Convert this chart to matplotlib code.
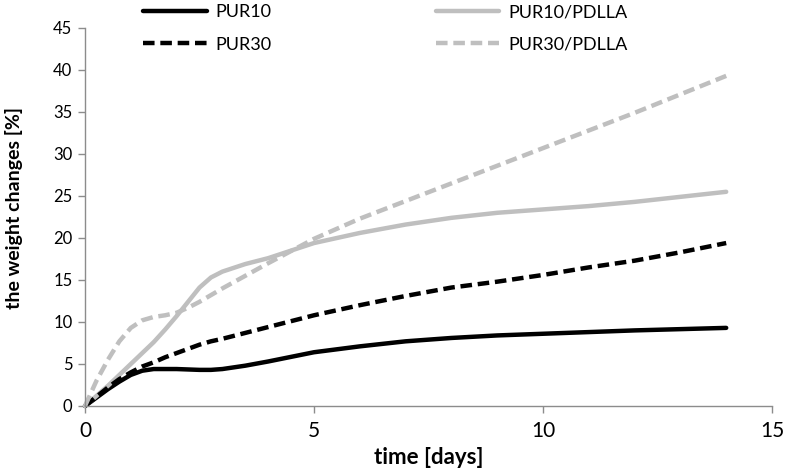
import numpy as np
import matplotlib
matplotlib.use("Agg")
import matplotlib.pyplot as plt

plt.rcParams["font.family"] = ["Lato", "DejaVu Sans"]

# values (time in days, weight change in %)
time_days = [0, 0.25, 0.5, 0.75, 1, 1.25, 1.5, 1.75, 2, 2.25, 2.5, 2.75, 3, 3.5, 4, 5, 6, 7, 8, 9, 10, 11, 12, 13, 14]
pur10 = [0, 1.0, 2.0, 2.9, 3.7, 4.2, 4.4, 4.4, 4.4, 4.35, 4.3, 4.3, 4.4, 4.8, 5.3, 6.4, 7.1, 7.7, 8.1, 8.4, 8.6, 8.8, 9.0, 9.15, 9.3]
pur30 = [0, 1.1, 2.2, 3.2, 4.0, 4.7, 5.2, 5.8, 6.3, 6.8, 7.3, 7.7, 8.0, 8.7, 9.4, 10.8, 12.0, 13.1, 14.1, 14.8, 15.6, 16.5, 17.3, 18.3, 19.4]
pur10_pdlla = [0, 1.2, 2.4, 3.7, 5.0, 6.3, 7.6, 9.1, 10.7, 12.4, 14.1, 15.3, 16.0, 16.9, 17.6, 19.4, 20.6, 21.6, 22.4, 23.0, 23.4, 23.8, 24.3, 24.9, 25.5]
pur30_pdlla = [0, 3.0, 5.5, 7.7, 9.3, 10.2, 10.6, 10.8, 11.1, 11.7, 12.4, 13.2, 14.0, 15.5, 17.0, 19.9, 22.3, 24.4, 26.5, 28.6, 30.7, 32.8, 34.9, 37.1, 39.3]

labels = ["PUR10", "PUR30", "PUR10/PDLLA", "PUR30/PDLLA"]

fig = plt.figure(figsize=(7.86, 4.76), dpi=100)
ax = fig.add_axes([85 / 786, 1 - 406 / 476, (772 - 85) / 786, (406 - 28) / 476])

gray = "#bfbfbf"
lw = 3.2
dash = (2.6, 1.3)
l1, = ax.plot(time_days, pur10, color="black", lw=lw, clip_on=False, solid_capstyle="round")
l2, = ax.plot(time_days, pur10_pdlla, color=gray, lw=lw, clip_on=False, solid_capstyle="round")
l3, = ax.plot(time_days, pur30, color="black", lw=lw, ls=(0, dash), clip_on=False)
l4, = ax.plot(time_days, pur30_pdlla, color=gray, lw=lw, ls=(0, dash), clip_on=False)

ax.set_xlim(0, 15)
ax.set_ylim(0, 45)
ax.set_xticks([0, 5, 10, 15])
ax.set_yticks(np.arange(0, 46, 5))

for s in ["top", "right"]:
    ax.spines[s].set_visible(False)
for s in ["left", "bottom"]:
    ax.spines[s].set_color("#8c8c8c")
    ax.spines[s].set_linewidth(1.0)
ax.tick_params(axis="both", direction="out", length=5, width=1.0, color="#8c8c8c")
ax.tick_params(axis="x", labelsize=15, pad=6)
ax.tick_params(axis="y", labelsize=12, pad=4)

ax.set_xlabel("time [days]", fontsize=16, fontweight="bold", labelpad=4)
ax.set_ylabel("the weight changes [%]", fontsize=14, fontweight="bold")
ax.yaxis.set_label_coords(-0.090, 0.524)

# column-major order so rows read PUR10 | PUR10/PDLLA, PUR30 | PUR30/PDLLA
fig.legend([l1, l3, l2, l4], labels, ncol=2, loc="center",
           bbox_to_anchor=(0.4905, 1 - 28.5 / 476), frameon=False, fontsize=13,
           handlelength=3.5, handletextpad=0.5, columnspacing=9.1, labelspacing=0.9)

fig.savefig("out.png", dpi=100)
